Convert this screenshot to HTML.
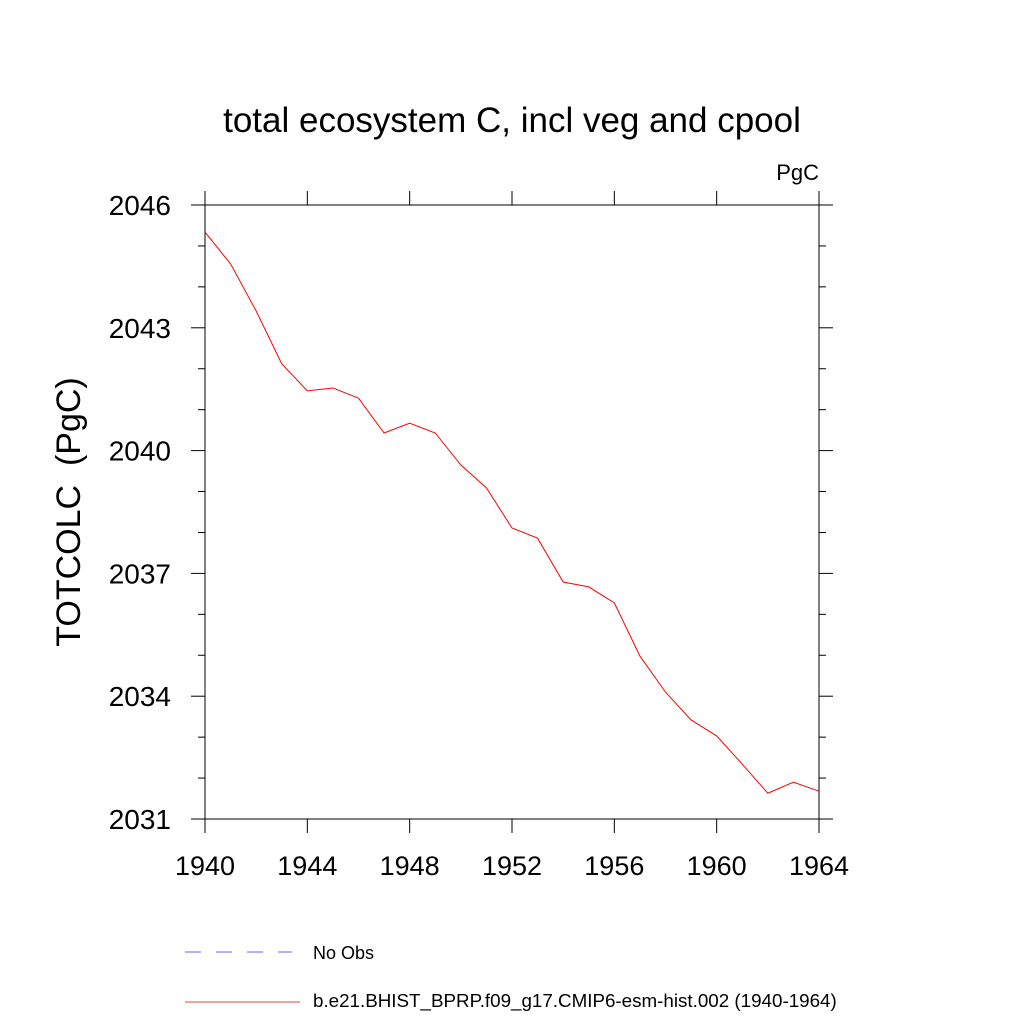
<!DOCTYPE html>
<html><head><meta charset="utf-8"><style>
body{margin:0;background:#fff}
svg{display:block;font-family:"Liberation Sans",sans-serif}
</style></head><body>
<svg id="c" width="1024" height="1024" viewBox="0 0 1024 1024">
<text x="512" y="132" font-size="35" text-anchor="middle">total ecosystem C, incl veg and cpool</text>
<text x="819" y="180" font-size="22" text-anchor="end">PgC</text>
<text transform="translate(80,512) rotate(-90)" font-size="34" text-anchor="middle">TOTCOLC&#160; (PgC)</text>
<g id="axes"></g>
<g id="series"></g>
<g>
<line x1="185" y1="952" x2="292" y2="952" stroke="#6666ff" stroke-width="1" stroke-dasharray="16,15"/>
<text x="313" y="959" font-size="18">No Obs</text>
<line x1="185" y1="1002" x2="300" y2="1002" stroke="#e84040" stroke-width="1"/>
<text x="313" y="1007" font-size="18.8">b.e21.BHIST_BPRP.f09_g17.CMIP6-esm-hist.002 (1940-1964)</text>
</g>
</svg>
<script>
const years=[1940,1941,1942,1943,1944,1945,1946,1947,1948,1949,1950,1951,1952,1953,1954,1955,1956,1957,1958,1959,1960,1961,1962,1963,1964];
const values=[2045.34,2044.56,2043.41,2042.12,2041.46,2041.53,2041.28,2040.43,2040.67,2040.43,2039.65,2039.09,2038.11,2037.86,2036.79,2036.67,2036.28,2034.98,2034.10,2033.42,2033.03,2032.34,2031.63,2031.90,2031.68];
const xTicks=[1940,1944,1948,1952,1956,1960,1964];
const yTicks=[2031,2034,2037,2040,2043,2046];
const yMinor=[2032,2033,2035,2036,2038,2039,2041,2042,2044,2045];
const X0=205,X1=819,Y0=205,Y1=819,xmin=1940,xmax=1964,ymin=2031,ymax=2046;
const sx=v=>X0+(v-xmin)/(xmax-xmin)*(X1-X0);
const sy=v=>Y1-(v-ymin)/(ymax-ymin)*(Y1-Y0);
const NS='http://www.w3.org/2000/svg';
const ax=document.getElementById('axes');
function mk(tag,at,parent){const e=document.createElementNS(NS,tag);for(const k in at)e.setAttribute(k,at[k]);parent.appendChild(e);return e;}
const fr=mk('rect',{x:X0,y:Y0,width:X1-X0,height:Y1-Y0,fill:'none',stroke:'#000','stroke-width':1},ax);


xTicks.forEach(t=>{const x=sx(t);
 const a=mk('line',{x1:x,y1:Y1,x2:x,y2:Y1+14,stroke:'#000'},ax);
 
 
 const b=mk('line',{x1:x,y1:Y0,x2:x,y2:Y0-14,stroke:'#000'},ax);
 
 
 const l=mk('text',{x:x,y:Y1+56,'font-size':27,'text-anchor':'middle'},ax);l.textContent=t;
 
 
});
yTicks.forEach(t=>{const y=sy(t);
 const a=mk('line',{x1:X0-14,y1:y,x2:X0,y2:y,stroke:'#000'},ax);
 
 
 const b=mk('line',{x1:X1,y1:y,x2:X1+14,y2:y,stroke:'#000'},ax);
 
 
 const l=mk('text',{x:X0-34,y:y+10,'font-size':28,'text-anchor':'end'},ax);l.textContent=t;
 
 
});
yMinor.forEach(t=>{const y=sy(t);
 const a=mk('line',{x1:X0-7,y1:y,x2:X0,y2:y,stroke:'#000'},ax);
 
 
 const b=mk('line',{x1:X1,y1:y,x2:X1+7,y2:y,stroke:'#000'},ax);
 
 
});
const pl=mk('polyline',{points:years.map((y,i)=>sx(y)+','+sy(values[i])).join(' '),fill:'none',stroke:'#ff0000','stroke-width':1},document.getElementById('series'));


</script>
</body></html>
